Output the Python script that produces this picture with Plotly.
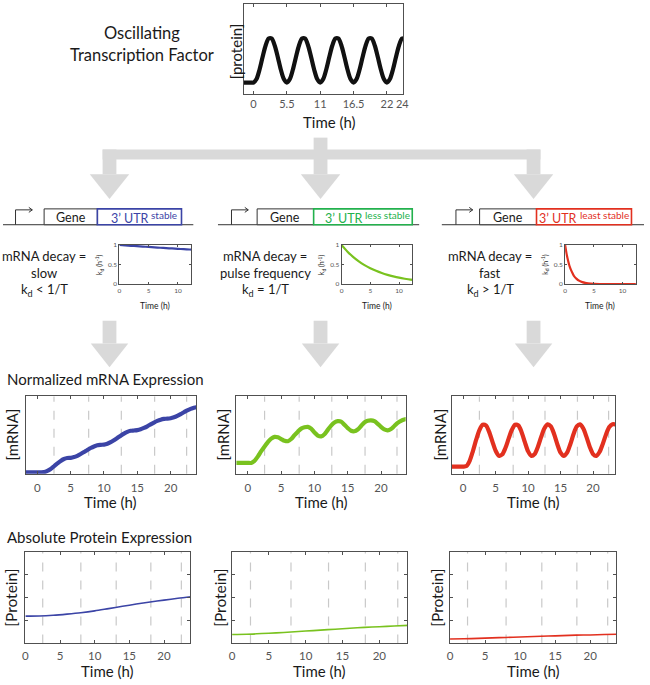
import plotly.graph_objects as go

W, H = 650, 685

# ---------------- data ----------------
tf_time = [-2.0, -1.5, -1.0, -0.5, 0.0, 0.5, 1.0, 1.5, 2.0, 2.5, 3.0, 3.5, 4.0, 4.5, 5.0, 5.5,
           6.0, 6.5, 7.0, 7.5, 8.0, 8.5, 9.0, 9.5, 10.0, 10.5, 11.0, 11.5, 12.0, 12.5, 13.0, 13.5,
           14.0, 14.5, 15.0, 15.5, 16.0, 16.5, 17.0, 17.5, 18.0, 18.5, 19.0, 19.5, 20.0, 20.5,
           21.0, 21.5, 22.0, 22.5, 23.0, 23.5, 24.0, 24.5, 25.0]
tf_level = [0, 0, 0, 0, 0, 0.079, 0.292, 0.571, 0.827, 0.98, 0.98, 0.827, 0.571, 0.292, 0.079, 0,
            0.079, 0.292, 0.571, 0.827, 0.98, 0.98, 0.827, 0.571, 0.292, 0.079, 0,
            0.079, 0.292, 0.571, 0.827, 0.98, 0.98, 0.827, 0.571, 0.292, 0.079, 0,
            0.079, 0.292, 0.571, 0.827, 0.98, 0.98, 0.827, 0.571, 0.292, 0.079, 0,
            0.079, 0.292, 0.571, 0.827, 0.98, 0.98]
tf_ticks = [0, 5.5, 11, 16.5, 22, 24.55]
tf_ticklabels = ["0", "5.5", "11", "16.5", "22", "24"]

kd_time = [0, 1, 2, 3, 4, 5, 6, 7, 8, 9, 10, 11, 12, 13]
kd_stable = [1.0, 0.99, 0.98, 0.97, 0.96, 0.95, 0.94, 0.93, 0.92, 0.912, 0.903, 0.894, 0.885, 0.876]
kd_less = [1.0, 0.835, 0.698, 0.583, 0.487, 0.407, 0.34, 0.284, 0.237, 0.198, 0.165, 0.138, 0.115, 0.096]
kd_time_fast = [0, 0.25, 0.5, 0.75, 1.0, 1.25, 1.5, 2.0, 2.5, 3.0, 3.5, 4.0, 5.0, 6.0, 8.0, 10.0, 13.0]
kd_least = [1.0, 0.78, 0.61, 0.47, 0.37, 0.29, 0.22, 0.135, 0.082, 0.05, 0.03, 0.018, 0.007, 0.002, 0, 0, 0]
kd_xticks = [0, 5, 10]
kd_yticks = [0, 0.5, 1]
kd_yticklabels = ["0", "0.5", "1"]

mrna_time = [-2.0, -1.5, -1.0, -0.5, 0.0, 0.5, 1.0, 1.5, 2.0, 2.5, 3.0, 3.5, 4.0, 4.5, 5.0, 5.5,
             6.0, 6.5, 7.0, 7.5, 8.0, 8.5, 9.0, 9.5, 10.0, 10.5, 11.0, 11.5, 12.0, 12.5, 13.0, 13.5,
             14.0, 14.5, 15.0, 15.5, 16.0, 16.5, 17.0, 17.5, 18.0, 18.5, 19.0, 19.5, 20.0, 20.5,
             21.0, 21.5, 22.0, 22.5, 23.0, 23.5, 24.0]
mrna_stable = [0, 0, 0, 0, 0, 0, 0.003, 0.021, 0.052, 0.093, 0.136, 0.175, 0.204, 0.219, 0.222, 0.233,
               0.253, 0.28, 0.31, 0.342, 0.372, 0.396, 0.413, 0.42, 0.424, 0.438, 0.461, 0.492, 0.526,
               0.561, 0.593, 0.618, 0.635, 0.64, 0.645, 0.658, 0.679, 0.704, 0.733, 0.761, 0.786, 0.805,
               0.817, 0.82, 0.827, 0.841, 0.863, 0.89, 0.919, 0.947, 0.97, 0.988, 0.998]
mrna_less = [0, 0, 0, 0, 0, 0, 0.05, 0.15, 0.27, 0.38, 0.48, 0.56, 0.6, 0.59, 0.55, 0.51,
             0.5, 0.55, 0.64, 0.72, 0.79, 0.82, 0.83, 0.79, 0.7, 0.63, 0.61, 0.66, 0.76, 0.86, 0.93, 0.96,
             0.95, 0.88, 0.8, 0.74, 0.73, 0.77, 0.85, 0.93, 0.97, 0.98, 0.96, 0.9, 0.83, 0.77,
             0.75, 0.78, 0.85, 0.92, 0.97, 1.0, 1.01]
mrna_least = [0, 0, 0, 0, 0, 0.012, 0.137, 0.367, 0.634, 0.863, 0.988, 0.973, 0.819, 0.589, 0.373, 0.257,
              0.284, 0.438, 0.66, 0.869, 0.988, 0.971, 0.813, 0.576, 0.36, 0.253, 0.296, 0.465, 0.695,
              0.898, 0.997, 0.95, 0.769, 0.528, 0.328, 0.25, 0.328, 0.528, 0.769, 0.95, 0.997, 0.898,
              0.695, 0.465, 0.296, 0.253, 0.344, 0.535, 0.758, 0.933, 1.0, 0.99, 0.93]
mrna_ticks = [0, 5, 10, 15, 20]
pulse_marks_mrna = [2.5, 7.7, 12.6, 17.6, 22.4]

protein_time = [0, 2, 4, 6, 8, 10, 12, 14, 16, 18, 20, 22, 24]
protein_stable = [1.19, 1.2, 1.23, 1.28, 1.34, 1.42, 1.52, 1.62, 1.72, 1.81, 1.89, 1.97, 2.04]
protein_less = [0.39, 0.4, 0.43, 0.46, 0.5, 0.54, 0.58, 0.62, 0.66, 0.7, 0.73, 0.76, 0.79]
protein_least = [0.19, 0.2, 0.22, 0.24, 0.26, 0.28, 0.3, 0.32, 0.34, 0.36, 0.37, 0.39, 0.4]
protein_xticks = [0, 5, 10, 15, 20]
protein_yticks = [1, 2, 3]
pulse_marks_protein = [2.5, 8.0, 13.1, 18.1, 22.5]

# ---------------- style ----------------
FONT = "Lato"
TXT = "#1a1a1a"
AX = "#505050"
TICKC = "#555555"
BLUE = "#3b44a6"
GREEN_LINE = "#79c21f"
GREEN_BOX = "#23b14d"
RED = "#e2301f"
ARROW = "#d9d9d9"
DASH = "#c9c9c9"


def fx(x):
    return x / W


def fy(y):
    return 1 - y / H


fig = go.Figure()
layout = {}
shapes = []
annotations = []


def add_axes(n, xpx, ypx, xrange, yrange, xticks=None, xlabels=None, yticks=None, ylabels=None,
             fsize=11.5, standoff=None, ticklen=3):
    xname = "xaxis" if n == 1 else f"xaxis{n}"
    yname = "yaxis" if n == 1 else f"yaxis{n}"
    xa = dict(domain=[fx(xpx[0]), fx(xpx[1])], range=xrange, anchor="y" if n == 1 else f"y{n}",
              showline=True, mirror="ticks", linecolor=AX, linewidth=1, showgrid=False, zeroline=False,
              ticks="inside" if xticks else "", ticklen=ticklen, tickcolor=AX, tickwidth=1,
              tickvals=xticks if xticks else [], showticklabels=bool(xticks), tickangle=0,
              tickfont=dict(family=FONT, size=fsize, color=TICKC), fixedrange=True)
    if xlabels:
        xa["ticktext"] = xlabels
    if standoff is not None:
        xa["ticklabelstandoff"] = standoff
    ya = dict(domain=[fy(ypx[1]), fy(ypx[0])], range=yrange, anchor="x" if n == 1 else f"x{n}",
              showline=True, mirror="ticks", linecolor=AX, linewidth=1, showgrid=False, zeroline=False,
              ticks="inside" if yticks else "", ticklen=ticklen, tickcolor=AX, tickwidth=1,
              tickvals=yticks if yticks else [], showticklabels=bool(ylabels),
              tickfont=dict(family=FONT, size=fsize, color=TICKC), fixedrange=True)
    if ylabels:
        ya["ticktext"] = ylabels
    layout[xname] = xa
    layout[yname] = ya


def add_line(n, x, y, color, width, smoothing=0.8):
    fig.add_trace(go.Scatter(x=x, y=y, mode="lines",
                             line=dict(color=color, width=width, shape="spline", smoothing=smoothing),
                             xaxis="x" if n == 1 else f"x{n}", yaxis="y" if n == 1 else f"y{n}",
                             hoverinfo="skip", showlegend=False))


def add_marks(n, marks):
    for m in marks:
        shapes.append(dict(type="line", xref=f"x{n}", yref=f"y{n} domain", x0=m, x1=m, y0=0, y1=1,
                           line=dict(color=DASH, width=1.2, dash="dash"), layer="below"))


def text(x, y, s, size, color=TXT, xanchor="center", angle=0):
    annotations.append(dict(x=fx(x), y=fy(y), xref="paper", yref="paper", text=s, showarrow=False,
                            xanchor=xanchor, yanchor="middle", textangle=angle,
                            font=dict(family=FONT, size=size, color=color)))


def rect(x0, y0, x1, y1, fill, line_color=None, lw=0):
    shapes.append(dict(type="rect", xref="paper", yref="paper", x0=fx(x0), x1=fx(x1), y0=fy(y1), y1=fy(y0),
                       fillcolor=fill, line=dict(color=line_color or fill, width=lw), layer="above"))


def poly(pts, fill):
    path = "M " + " L ".join(f"{fx(a):.5f},{fy(b):.5f}" for a, b in pts) + " Z"
    shapes.append(dict(type="path", xref="paper", yref="paper", path=path, fillcolor=fill,
                       line=dict(width=0), layer="above"))


def seg(x0, y0, x1, y1, color, w):
    shapes.append(dict(type="line", xref="paper", yref="paper", x0=fx(x0), y0=fy(y0), x1=fx(x1), y1=fy(y1),
                       line=dict(color=color, width=w), layer="above"))


# ---------------- top: oscillating TF ----------------
add_axes(1, (244, 405.7), (0.5, 90.7), [-1.63, 24.67], [-0.25, 1.74], tf_ticks, tf_ticklabels, fsize=11)
add_line(1, tf_time, tf_level, "#111111", 4.2)
text(141, 29, "Oscillating", 16.5)
text(141, 52, "Transcription Factor", 16.5)
text(236, 48, "[protein]", 15, angle=-90)
text(331, 119, "Time (h)", 15)

# ---------------- big arrows ----------------
rect(315, 135, 329, 172, ARROW)
rect(101, 147, 545, 157, ARROW)
rect(101, 147, 115, 172, ARROW)
rect(531, 147, 545, 172, ARROW)
for c in [108, 322, 538]:
    poly([(c - 20, 172), (c + 20, 172), (c, 197)], ARROW)
    rect(c - 7, 320, c + 7, 343, ARROW)
    poly([(c - 19, 343), (c + 19, 343), (c, 367)], ARROW)

# ---------------- gene diagrams ----------------
genes = [
    dict(line=(0, 193), prom=12.7, gene=(41.7, 95.7), utr=(95.7, 181), col=BLUE,
         utr_txt=107, sup="stable"),
    dict(line=(218, 422), prom=231.7, gene=(257.7, 315), utr=(315, 415), col=GREEN_BOX,
         utr_txt=324, sup="less stable"),
    dict(line=(445, 650), prom=459.3, gene=(483.3, 541), utr=(541, 637.3), col=RED,
         utr_txt=542, sup="least stable"),
]
for g in genes:
    seg(g["line"][0], 223, g["line"][1], 223, "#333333", 1)
    p = g["prom"]
    seg(p, 223, p, 208, "#333333", 1)
    seg(p, 208, p + 17, 208, "#333333", 1)
    seg(p + 17, 208, p + 13.5, 205.5, "#333333", 1)
    seg(p + 17, 208, p + 13.5, 210.5, "#333333", 1)
    rect(g["gene"][0], 207, g["gene"][1], 223, "white", "#333333", 1)
    rect(g["utr"][0], 207, g["utr"][1], 223, "white", g["col"], 1.6)
    text((g["gene"][0] + g["gene"][1]) / 2, 216, "Gene", 12.5)
    text(g["utr_txt"], 216.5, "3\u2019 UTR", 12.5, color=g["col"], xanchor="left")
    text(g["utr_txt"] + 41.5, 213, g["sup"], 10, color=g["col"], xanchor="left")

# ---------------- decay text ----------------
decay = [
    (42, "slow", "k<sub>d</sub> &lt; 1/T"),
    (266, "pulse frequency", "k<sub>d</sub> = 1/T"),
    (494, "fast", "k<sub>d</sub> &gt; 1/T"),
]
for cx, word, rel in decay:
    text(cx, 255, "mRNA decay =", 13)
    text(cx, 272, word, 13)
    text(cx, 289, rel, 13)

# ---------------- kd mini plots ----------------
kd_boxes = [(2, (118, 191), BLUE, kd_time, kd_stable),
            (3, (343.3, 415), GREEN_LINE, kd_time, kd_less),
            (4, (570, 641.7), RED, kd_time_fast, kd_least)]
for n, xb, col, tt, vals in kd_boxes:
    add_axes(n, xb, (243.5, 283), [0, 12.3], [0, 1], kd_xticks, None, kd_yticks, kd_yticklabels,
             fsize=6.5, ticklen=2)
    add_line(n, tt, vals, col, 2.2, smoothing=0.6)
    text(xb[0] - 20, 263, "k<sub>d</sub> (h<sup>-1</sup>)", 7, angle=-90)
    text((xb[0] + xb[1]) / 2, 305, "Time (h)", 8.5)

# ---------------- mRNA plots ----------------
mrna_boxes = [(5, (23, 196), [-1.75, 23.85], [-0.02, 1.16], BLUE, mrna_stable, 9),
              (6, (236.7, 408.3), [-1.73, 23.7], [-0.247, 1.53], GREEN_LINE, mrna_less, 223),
              (7, (455, 620.7), [-1.77, 23.4], [-0.167, 1.657], RED, mrna_least, 443)]
for n, xb, xr, yr, col, vals, lx in mrna_boxes:
    add_axes(n, xb, (396.5, 474.5), xr, yr, mrna_ticks, None, standoff=4)
    add_marks(n, pulse_marks_mrna)
    add_line(n, mrna_time, vals, col, 4.2)
    text(lx, 435, "[mRNA]", 15, angle=-90)
    text((xb[0] + xb[1]) / 2, 503, "Time (h)", 15)
text(2, 379, "Normalized mRNA Expression", 15, xanchor="left")

# ---------------- protein plots ----------------
prot_boxes = [(8, (22.7, 190), [0, 23.8], BLUE, protein_stable, 8),
              (9, (232.3, 410), [0, 23.8], GREEN_LINE, protein_less, 220),
              (10, (453.3, 621.7), [0, 23.7], RED, protein_least, 440)]
for n, xb, xr, col, vals, lx in prot_boxes:
    add_axes(n, xb, (553.5, 646), xr, [0, 4], protein_xticks, None, protein_yticks, None, standoff=2)
    add_marks(n, pulse_marks_protein)
    add_line(n, protein_time, vals, col, 1.6)
    text(lx, 600, "[Protein]", 15.5, angle=-90)
    text((xb[0] + xb[1]) / 2, 674, "Time (h)", 15)
text(2, 538, "Absolute Protein Expression", 15, xanchor="left")

fig.update_layout(width=W, height=H, margin=dict(l=0, r=0, t=0, b=0),
                  paper_bgcolor="white", plot_bgcolor="white", showlegend=False,
                  shapes=shapes, annotations=annotations, **layout)
fig.write_html("out.html", config={"displayModeBar": False})

# remove the browser's default page margin so the figure sits at the window origin
with open("out.html", "r", encoding="utf-8") as f:
    html = f.read()
html = html.replace("<body>", '<body style="margin:0;padding:0;overflow:hidden">', 1)
with open("out.html", "w", encoding="utf-8") as f:
    f.write(html)
